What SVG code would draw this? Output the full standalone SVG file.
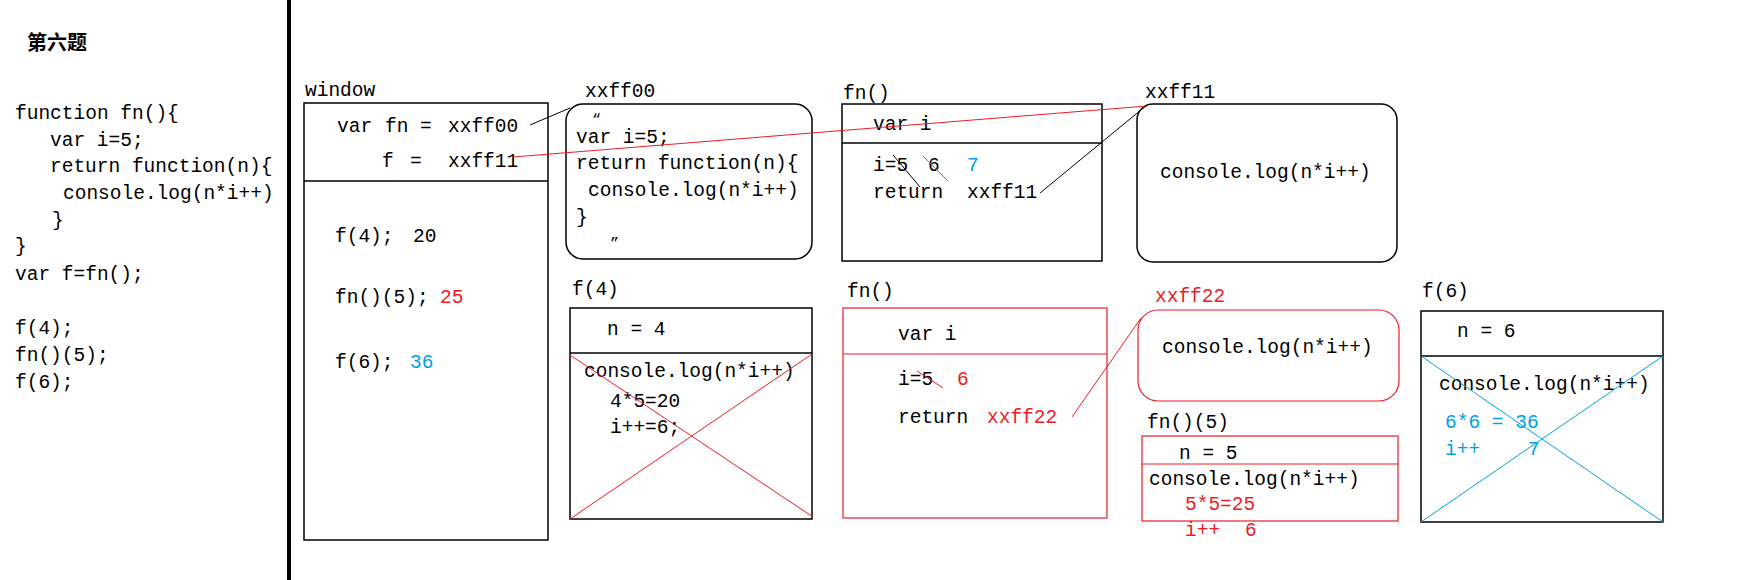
<svg xmlns="http://www.w3.org/2000/svg" width="1752" height="580" viewBox="0 0 1752 580">
<style>
text{font-family:"Liberation Mono","DejaVu Sans Mono",monospace;font-size:19.5px;fill:#000}
.cjk{font-family:"Noto Sans CJK SC",sans-serif;font-size:20px;font-weight:bold}
.q{font-size:15px}
.r{fill:#ed1c24}
.b{fill:#00a2e8}
.box{fill:none;stroke:#000;stroke-width:1.5}
.rbox{fill:none;stroke:#ed1c24;stroke-width:1.2}
.ln{fill:none;stroke:#000;stroke-width:1}
.rl{fill:none;stroke:#ed1c24;stroke-width:1}
.bl{fill:none;stroke:#00a2e8;stroke-width:1}
</style>
<rect width="1752" height="580" fill="#fff"/>
<g id="code">
<text class="cjk" x="27" y="50">第六题</text>
<text x="15" y="119">function fn(){</text>
<text x="50" y="146">var i=5;</text>
<text x="50" y="172">return function(n){</text>
<text x="63" y="199">console.log(n*i++)</text>
<text x="52" y="226">}</text>
<text x="15" y="252">}</text>
<text x="15" y="280">var f=fn();</text>
<text x="15" y="334">f(4);</text>
<text x="15" y="361">fn()(5);</text>
<text x="15" y="388">f(6);</text>
</g>
<rect x="287" y="0" width="4" height="580" fill="#000"/>
<g id="window">
<text x="305" y="96">window</text>
<rect class="box" x="304" y="103" width="244" height="437"/>
<line class="box" x1="304" y1="181" x2="548" y2="181"/>
<text x="337" y="132">var</text><text x="385" y="132">fn</text><text x="420" y="132">=</text><text x="448" y="132">xxff00</text>
<text x="382" y="167">f</text><text x="410" y="167">=</text><text x="448" y="167">xxff11</text>
<text x="335" y="242">f(4);</text><text x="413" y="242">20</text>
<text x="335" y="303">fn()(5);</text><text class="r" x="440" y="303">25</text>
<text x="335" y="368">f(6);</text><text class="b" x="410" y="368">36</text>
</g>
<g id="xxff00">
<text x="585" y="97">xxff00</text>
<rect class="box" x="566" y="104" width="246" height="155" rx="17"/>
<text class="q" x="592" y="124">“</text>
<text x="576" y="143">var i=5;</text>
<text x="576" y="169">return function(n){</text>
<text x="588" y="196">console.log(n*i++)</text>
<text x="576" y="223">}</text>
<text class="q" x="610" y="248">”</text>
</g>
<g id="fn1">
<text x="843" y="99">fn()</text>
<rect class="box" x="842" y="104" width="260" height="157"/>
<line class="box" x1="842" y1="143" x2="1102" y2="143"/>
<text x="873" y="130">var i</text>
<text x="873" y="171">i=5</text><text x="928" y="171">6</text><text class="b" x="967" y="171">7</text>
<text x="873" y="198">return</text><text x="967" y="198">xxff11</text>
<line class="ln" x1="893" y1="155" x2="920" y2="187"/>
<line class="bl" x1="923" y1="156" x2="948" y2="181"/>
</g>
<g id="xxff11">
<text x="1145" y="98">xxff11</text>
<rect class="box" x="1137" y="104" width="260" height="158" rx="16"/>
<text x="1160" y="178">console.log(n*i++)</text>
</g>
<g id="f4">
<text x="572" y="295">f(4)</text>
<rect class="box" x="570" y="308" width="242" height="211"/>
<line class="box" x1="570" y1="353" x2="812" y2="353"/>
<text x="607" y="335">n = 4</text>
<text x="584" y="377">console.log(n*i++)</text>
<text x="610" y="407">4*5=20</text>
<text x="610" y="433">i++=6;</text>
<line class="rl" x1="570" y1="355" x2="813" y2="517"/>
<line class="rl" x1="570" y1="519" x2="812" y2="354"/>
</g>
<g id="fn2">
<text x="847" y="297">fn()</text>
<rect class="rbox" x="843" y="308" width="264" height="210"/>
<line class="rbox" x1="843" y1="354" x2="1107" y2="354"/>
<text x="898" y="340">var i</text>
<text x="898" y="385">i=5</text><text class="r" x="957" y="385">6</text>
<text x="898" y="423">return</text><text class="r" x="987" y="423">xxff22</text>
<line class="rl" x1="917" y1="371" x2="943" y2="388"/>
</g>
<g id="xxff22">
<text class="r" x="1155" y="302">xxff22</text>
<rect class="rbox" x="1138" y="310" width="261" height="91" rx="20"/>
<text x="1162" y="353">console.log(n*i++)</text>
</g>
<g id="fn5">
<text x="1147" y="428">fn()(5)</text>
<rect class="rbox" x="1142" y="436" width="256" height="85"/>
<line class="rbox" x1="1142" y1="464" x2="1398" y2="464"/>
<text x="1179" y="459">n = 5</text>
<text x="1149" y="485">console.log(n*i++)</text>
<text class="r" x="1185" y="510">5*5=25</text>
<text class="r" x="1185" y="536">i++</text><text class="r" x="1245" y="536">6</text>
</g>
<g id="f6">
<text x="1422" y="297">f(6)</text>
<rect class="box" x="1421" y="311" width="242" height="211"/>
<line class="box" x1="1421" y1="356" x2="1663" y2="356"/>
<text x="1457" y="337">n = 6</text>
<text x="1439" y="390">console.log(n*i++)</text>
<text class="b" x="1445" y="428">6*6 = 36</text>
<text class="b" x="1445" y="455">i++</text><text class="b" x="1528" y="455">7</text>
<line class="bl" x1="1421" y1="356" x2="1663" y2="522"/>
<line class="bl" x1="1421" y1="522" x2="1663" y2="356"/>
</g>
<g id="connectors">
<line class="ln" x1="530" y1="125" x2="570" y2="108"/>
<line class="rl" x1="513" y1="157" x2="1147" y2="106"/>
<line class="ln" x1="1040" y1="193" x2="1147" y2="105"/>
<line class="rl" x1="1072" y1="417" x2="1141" y2="318"/>
</g>
</svg>
